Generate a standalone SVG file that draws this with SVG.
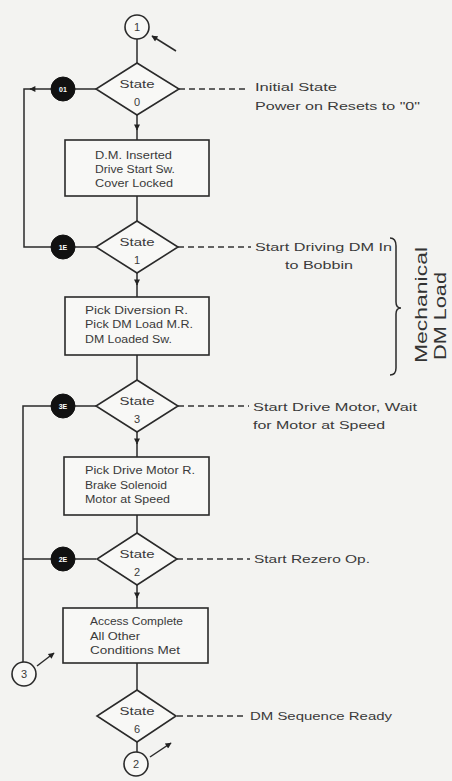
<svg xmlns="http://www.w3.org/2000/svg" width="452" height="781" viewBox="0 0 452 781">
<defs>
<marker id="ah" viewBox="0 0 10 10" refX="9" refY="5" markerWidth="7" markerHeight="6" orient="auto" markerUnits="userSpaceOnUse">
<path d="M0,0 L10,5 L0,10 z" fill="#222"/>
</marker>
<marker id="ahs" viewBox="0 0 10 10" refX="9" refY="5" markerWidth="8" markerHeight="6" orient="auto" markerUnits="userSpaceOnUse">
<path d="M0,0 L10,5 L0,10 z" fill="#222"/>
</marker>
</defs>
<style>
.ln{fill:none;stroke:#2a2a2a;stroke-width:1.5}
.dash{fill:none;stroke:#333;stroke-width:1.4;stroke-dasharray:6,4}
.box{fill:#f8f8f6;stroke:#2a2a2a;stroke-width:1.6}
.dia{fill:#f8f8f6;stroke:#2a2a2a;stroke-width:1.6}
.oc{fill:#f8f8f6;stroke:#2a2a2a;stroke-width:1.6}
.bc{fill:#111;stroke:#111;stroke-width:1}
.t{font-family:"Liberation Sans",Arial,sans-serif;font-size:10px;fill:#3a3a3a}
.ds{font-family:"Liberation Sans",Arial,sans-serif;font-size:11px;fill:#3a3a3a;text-anchor:middle}
.an{font-family:"Liberation Sans",Arial,sans-serif;font-size:10.5px;fill:#3a3a3a}
.bt{font-family:"Liberation Sans",Arial,sans-serif;font-size:7px;font-weight:bold;fill:#fff;text-anchor:middle}
.big{font-family:"Liberation Sans",Arial,sans-serif;font-size:17px;fill:#333;text-anchor:middle}
</style>
<rect width="452" height="781" fill="#f3f3f1"/>

<g id="connectors">
<path class="ln" d="M137,39 L137,63"/>
<path class="ln" d="M137,115 L137,130" marker-end="url(#ah)"/>
<path class="ln" d="M137,128 L137,140"/>
<path class="ln" d="M137,196 L137,221"/>
<path class="ln" d="M137,273 L137,285" marker-end="url(#ah)"/>
<path class="ln" d="M137,283 L137,297"/>
<path class="ln" d="M137,355 L137,380"/>
<path class="ln" d="M137,432 L137,444" marker-end="url(#ah)"/>
<path class="ln" d="M137,442 L137,457"/>
<path class="ln" d="M137,515 L137,533"/>
<path class="ln" d="M137,585 L137,598" marker-end="url(#ah)"/>
<path class="ln" d="M137,596 L137,608"/>
<path class="ln" d="M137,663 L137,690"/>
<path class="ln" d="M137,742 L137,752"/>
<path class="ln" d="M96,89 L75,89"/>
<path class="ln" d="M96,247 L75,247"/>
<path class="ln" d="M96,406 L75,406"/>
<path class="ln" d="M96,559 L75,559"/>
<path class="ln" d="M51,89 L30,89" marker-end="url(#ah)"/>
<path class="ln" d="M32,89 L24,89 L24,247 L51,247"/>
<path class="ln" d="M51,406 L23,406 L23,662"/>
<path class="ln" d="M51,559 L23,559"/>
<path class="ln" d="M176,51 L152,36" marker-end="url(#ahs)"/>
<path class="ln" d="M37,666 L54,653" marker-end="url(#ahs)"/>
<path class="ln" d="M150,757 L171,743" marker-end="url(#ahs)"/>
<path class="dash" d="M179,89 L246,89"/>
<path class="dash" d="M178,247 L251,247"/>
<path class="dash" d="M178,406 L249,406"/>
<path class="dash" d="M177,559 L250,559"/>
<path class="dash" d="M177,716 L246,716"/>
<path class="ln" d="M390,238 Q396,238 396,246 L396,302 Q396,308 401,308 Q396,308 396,314 L396,368 Q396,375 390,375"/>
</g>

<g id="c1"><circle class="oc" cx="137" cy="27" r="12"/><text class="ds" x="137" y="31">1</text></g>

<g id="s0"><polygon class="dia" points="137,63 179,89 137,115 96,89"/><text class="ds" x="137" y="88" textLength="35" lengthAdjust="spacingAndGlyphs">State</text><text class="ds" x="137" y="106">0</text></g>
<g id="e01"><circle class="bc" cx="63" cy="89" r="12"/><text class="bt" x="63" y="92">01</text></g>
<g id="n0"><text class="an" x="255" y="91" textLength="82" lengthAdjust="spacingAndGlyphs">Initial State</text><text class="an" x="255" y="110" textLength="165" lengthAdjust="spacingAndGlyphs">Power on Resets to "0"</text></g>

<g id="b1"><rect class="box" x="65" y="140" width="144" height="56"/>
<text class="t" x="95" y="159" textLength="77" lengthAdjust="spacingAndGlyphs">D.M. Inserted</text>
<text class="t" x="95" y="173" textLength="80" lengthAdjust="spacingAndGlyphs">Drive Start Sw.</text>
<text class="t" x="95" y="187" textLength="78" lengthAdjust="spacingAndGlyphs">Cover Locked</text></g>

<g id="s1"><polygon class="dia" points="137,221 178,247 137,273 96,247"/><text class="ds" x="137" y="246" textLength="35" lengthAdjust="spacingAndGlyphs">State</text><text class="ds" x="137" y="264">1</text></g>
<g id="e1E"><circle class="bc" cx="63" cy="247" r="12"/><text class="bt" x="63" y="250">1E</text></g>
<g id="n1"><text class="an" x="255" y="251" textLength="137" lengthAdjust="spacingAndGlyphs">Start Driving DM In</text><text class="an" x="285" y="269" textLength="68" lengthAdjust="spacingAndGlyphs">to Bobbin</text></g>

<g id="b2"><rect class="box" x="65" y="297" width="144" height="58"/>
<text class="t" x="85" y="314" textLength="103" lengthAdjust="spacingAndGlyphs">Pick Diversion R.</text>
<text class="t" x="85" y="328" textLength="108" lengthAdjust="spacingAndGlyphs">Pick DM Load M.R.</text>
<text class="t" x="85" y="343" textLength="87" lengthAdjust="spacingAndGlyphs">DM Loaded Sw.</text></g>

<g id="s3"><polygon class="dia" points="137,380 178,406 137,432 96,406"/><text class="ds" x="137" y="405" textLength="35" lengthAdjust="spacingAndGlyphs">State</text><text class="ds" x="137" y="423">3</text></g>
<g id="e3E"><circle class="bc" cx="63" cy="406" r="12"/><text class="bt" x="63" y="409">3E</text></g>
<g id="n3"><text class="an" x="253" y="411" textLength="164" lengthAdjust="spacingAndGlyphs">Start Drive Motor, Wait</text><text class="an" x="253" y="429" textLength="132" lengthAdjust="spacingAndGlyphs">for Motor at Speed</text></g>

<g id="b3"><rect class="box" x="64" y="457" width="145" height="58"/>
<text class="t" x="85" y="474" textLength="110" lengthAdjust="spacingAndGlyphs">Pick Drive Motor R.</text>
<text class="t" x="85" y="489" textLength="82" lengthAdjust="spacingAndGlyphs">Brake Solenoid</text>
<text class="t" x="85" y="503" textLength="85" lengthAdjust="spacingAndGlyphs">Motor at Speed</text></g>

<g id="s2"><polygon class="dia" points="137,533 177,559 137,585 97,559"/><text class="ds" x="137" y="558" textLength="35" lengthAdjust="spacingAndGlyphs">State</text><text class="ds" x="137" y="576">2</text></g>
<g id="e2E"><circle class="bc" cx="63" cy="559" r="12"/><text class="bt" x="63" y="562">2E</text></g>
<g id="n2"><text class="an" x="254" y="563" textLength="116" lengthAdjust="spacingAndGlyphs">Start Rezero Op.</text></g>

<g id="b4"><rect class="box" x="63" y="608" width="145" height="55"/>
<text class="t" x="90" y="625" textLength="93" lengthAdjust="spacingAndGlyphs">Access Complete</text>
<text class="t" x="90" y="640" textLength="50" lengthAdjust="spacingAndGlyphs">All Other</text>
<text class="t" x="90" y="654" textLength="90" lengthAdjust="spacingAndGlyphs">Conditions Met</text></g>

<g id="c3"><circle class="oc" cx="24" cy="674" r="12"/><text class="ds" x="24" y="678">3</text></g>

<g id="s6"><polygon class="dia" points="137,690 176,716 137,742 97,716"/><text class="ds" x="137" y="715" textLength="35" lengthAdjust="spacingAndGlyphs">State</text><text class="ds" x="137" y="733">6</text></g>
<g id="n6"><text class="an" x="250" y="720" textLength="142" lengthAdjust="spacingAndGlyphs">DM Sequence Ready</text></g>

<g id="c2"><circle class="oc" cx="136" cy="764" r="12"/><text class="ds" x="136" y="768">2</text></g>

<g id="label"><text class="big" transform="translate(427,305) rotate(-90)" textLength="116" lengthAdjust="spacingAndGlyphs">Mechanical</text><text class="big" transform="translate(446,316) rotate(-90)" textLength="88" lengthAdjust="spacingAndGlyphs">DM Load</text></g>
</svg>
